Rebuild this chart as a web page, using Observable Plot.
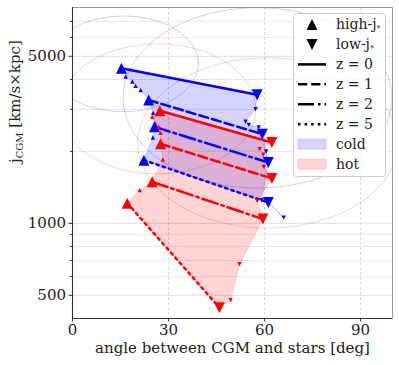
<!DOCTYPE html>
<html><head><meta charset="utf-8">
<script src="https://cdn.jsdelivr.net/npm/d3@7"></script>
<script src="https://cdn.jsdelivr.net/npm/@observablehq/plot@0.6"></script>
<style>body{margin:0;background:#fff} svg{display:block}</style>
</head><body><div id="chart"></div>
<script>
// ---- data ----
const zLabels = ["z = 0", "z = 1", "z = 2", "z = 5"];
const markerLabels = ["high-j", "low-j"];
const phaseLabels = ["cold", "hot"];

const coldHighX = [15.3, 23.8, 25.6, 22.3];
const coldHighY = [4460, 3280, 2535, 1839];
const coldLowX = [57.7, 59.3, 61.2, 61.2];
const coldLowY = [3450, 2362, 1797, 1222];
const hotHighX = [27.3, 27.5, 24.9, 17.1];
const hotHighY = [2957, 2152, 1492, 1215];
const hotLowX = [62.3, 62.3, 59.5, 45.9];
const hotLowY = [2180, 1542, 1042, 444];

const coldHighTrackX = [15.3, 16.6, 18.7, 19.7, 21.3, 23.8, 25.2, 25.6, 25.1, 22.3];
const coldHighTrackY = [4460, 4115, 3920, 3760, 3610, 3280, 2900, 2535, 2286, 1839];
const coldLowTrackX = [57.7, 57.2, 54.1, 55.1, 58.2, 59.3, 60.5, 61.2, 59.1, 61.2];
const coldLowTrackY = [3450, 3005, 2666, 2583, 2517, 2362, 1998, 1797, 1250, 1222];
const hotHighTrackX = [27.3, 24.9, 25.9, 26.9, 27.5, 27.5, 28.2, 24.9, 21.0, 17.1];
const hotHighTrackY = [2957, 2790, 2608, 2534, 2391, 2152, 1850, 1492, 1377, 1215];
const hotLowTrackX = [62.3, 58.5, 59.6, 59.8, 62.3, 57.7, 59.5, 52.2, 49.4, 45.9];
const hotLowTrackY = [2180, 2044, 1936, 1724, 1542, 1242, 1042, 675, 477, 444];
const coldExtraX = [61.2, 66.0];
const coldExtraY = [1222, 1057];

const ellipsePhase = ["cold", "cold", "hot", "hot"];
const ellipseCX = [15.9, 57.8, 26.6, 61.0];
const ellipseCY = [4650, 3350, 3013, 2170];
const ellipseRX = [23.4, 42.0, 30.6, 40.6];
const ellipseRDex = [0.20, 0.377, 0.272, 0.356];

const xTicks = [0, 30, 60, 90];
const yMajor = [500, 1000, 5000];
const yMinor = [600, 700, 800, 900, 2000, 3000, 4000, 6000, 7000];

// ---- styles ----
const colors = {cold: "#0000ff", hot: "#ff0000"};
const dashes = [null, "9.2,4", "16,4,2.5,4", "2.5,4.1"];

const zip = (xs, ys) => xs.map((x, i) => ({x, y: ys[i]}));
const triUp = {draw(ctx, size) { const s = Math.sqrt(size / Math.PI); ctx.moveTo(0, -s); ctx.lineTo(s, s); ctx.lineTo(-s, s); ctx.closePath(); }};
const triDown = {draw(ctx, size) { const s = Math.sqrt(size / Math.PI); ctx.moveTo(0, s); ctx.lineTo(s, -s); ctx.lineTo(-s, -s); ctx.closePath(); }};

const phases = {
  cold: {hx: coldHighX, hy: coldHighY, lx: coldLowX, ly: coldLowY, thx: coldHighTrackX, thy: coldHighTrackY, tlx: coldLowTrackX, tly: coldLowTrackY},
  hot: {hx: hotHighX, hy: hotHighY, lx: hotLowX, ly: hotLowY, thx: hotHighTrackX, thy: hotHighTrackY, tlx: hotLowTrackX, tly: hotLowTrackY}
};

const marks = [];
// grid
marks.push(Plot.gridY(yMinor, {stroke: "#b0b0b0", strokeOpacity: 0.4, strokeWidth: 0.8}));
marks.push(Plot.gridY(yMajor, {stroke: "#b0b0b0", strokeOpacity: 0.5, strokeWidth: 0.8}));
marks.push(Plot.gridX(xTicks.slice(1), {stroke: "#b0b0b0", strokeOpacity: 0.6, strokeWidth: 0.8, strokeDasharray: "3,2"}));

// ellipses
ellipseCX.forEach((cx, i) => {
  const pts = d3.range(0, 361, 2).map(t => {
    const a = t * Math.PI / 180;
    return {x: cx + ellipseRX[i] * Math.cos(a), y: Math.pow(10, Math.log10(ellipseCY[i]) + ellipseRDex[i] * Math.sin(a))};
  });
  marks.push(Plot.line(pts, {x: "x", y: "y", stroke: colors[ellipsePhase[i]], strokeOpacity: 0.2, strokeWidth: 1, clip: true}));
});

// filled regions
phaseLabels.forEach(p => {
  const d = phases[p];
  const poly = zip(d.thx, d.thy).concat(zip(d.tlx, d.tly).reverse());
  marks.push(Plot.line(poly, {x: "x", y: "y", fill: colors[p], fillOpacity: 0.17, stroke: colors[p], strokeOpacity: 0.15, strokeWidth: 1, curve: "linear-closed"}));
});

// extra cold segment
marks.push(Plot.line(zip(coldExtraX, coldExtraY), {x: "x", y: "y", stroke: colors.cold, strokeOpacity: 0.35, strokeWidth: 1}));
marks.push(Plot.dot(zip(coldExtraX, coldExtraY).slice(1), {x: "x", y: "y", symbol: triDown, r: 2.2, fill: colors.cold, stroke: "none"}));

// z lines
phaseLabels.forEach(p => {
  const d = phases[p];
  zLabels.forEach((z, i) => {
    marks.push(Plot.line([{x: d.hx[i], y: d.hy[i]}, {x: d.lx[i], y: d.ly[i]}], {x: "x", y: "y", stroke: colors[p], strokeWidth: 2.5, strokeDasharray: dashes[i]}));
  });
});

// small track markers
phaseLabels.forEach(p => {
  const d = phases[p];
  marks.push(Plot.dot(zip(d.thx, d.thy), {x: "x", y: "y", symbol: triUp, r: 2.2, fill: colors[p], stroke: "none"}));
  marks.push(Plot.dot(zip(d.tlx, d.tly), {x: "x", y: "y", symbol: triDown, r: 2.2, fill: colors[p], stroke: "none"}));
});
// big markers
phaseLabels.forEach(p => {
  const d = phases[p];
  marks.push(Plot.dot(zip(d.hx, d.hy), {x: "x", y: "y", symbol: triUp, r: 5.5, fill: colors[p], stroke: "none"}));
  marks.push(Plot.dot(zip(d.lx, d.ly), {x: "x", y: "y", symbol: triDown, r: 5.5, fill: colors[p], stroke: "none"}));
});

// frame & axes
marks.push(Plot.frame({stroke: "#999", strokeWidth: 1}));
marks.push(Plot.ruleX([0], {stroke: "#333", strokeWidth: 1.1}));
marks.push(Plot.ruleY([400], {stroke: "#333", strokeWidth: 1.1}));
marks.push(Plot.axisX(xTicks, {tickSize: 3.5, tickPadding: 2, label: null, stroke: "#333", fill: "#222", tickFormat: d => String(d)}));
marks.push(Plot.axisY(yMajor, {tickSize: 3.5, tickPadding: 3, label: null, stroke: "#333", fill: "#222", tickFormat: d => String(d)}));
marks.push(Plot.axisY(yMinor, {tickSize: 2, label: null, stroke: "#333", tickFormat: () => ""}));
marks.push(Plot.text(["angle between CGM and stars [deg]"], {frameAnchor: "bottom", dy: 34, fill: "#222", fontSize: 15}));
marks.push(Plot.text(["j"], {frameAnchor: "left", dx: -57, rotate: -90, fill: "#222", fontSize: 15, className: "ylab"}));

const chart = Plot.plot({
  width: 399, height: 365,
  marginLeft: 72, marginRight: 7, marginTop: 7, marginBottom: 47,
  style: {fontFamily: "DejaVu Serif", fontSize: "15px", background: "#fff", color: "#222"},
  x: {domain: [0, 100]},
  y: {type: "log", domain: [400, 8000]},
  marks
});
document.getElementById("chart").appendChild(chart);

// y label with subscript
const yl = d3.select(chart).select("g.ylab text");
yl.text(null);
yl.append("tspan").text("j");
yl.append("tspan").attr("font-size", 10).attr("dy", 3).text("CGM");
yl.append("tspan").attr("dy", -3).text(" [km/s×kpc]");

// legend
const svg = d3.select(chart);
const lg = svg.append("g").attr("font-family", "DejaVu Serif").attr("font-size", 14).attr("fill", "#222").attr("text-anchor", "start");
lg.append("rect").attr("x", 293.5).attr("y", 13.5).attr("width", 92).attr("height", 163).attr("rx", 3)
  .attr("fill", "white").attr("fill-opacity", 0.8).attr("stroke", "#ccc");
const rowY = i => 24.5 + i * 19.95;
const hx0 = 298, hx1 = 326, tx = 336;
const triPath = (sym, r) => d3.symbol(sym, r * r * Math.PI)();
const entries = [];
markerLabels.forEach((m, i) => entries.push({type: "marker", sym: i === 0 ? triUp : triDown, label: m, star: true}));
zLabels.forEach((z, i) => entries.push({type: "line", dash: dashes[i], label: z}));
phaseLabels.forEach(p => entries.push({type: "patch", color: colors[p], label: p}));
entries.forEach((e, i) => {
  const y = rowY(i);
  if (e.type === "marker") {
    lg.append("path").attr("d", triPath(e.sym, 5.5)).attr("transform", `translate(${(hx0 + hx1) / 2},${y})`).attr("fill", "#000");
  } else if (e.type === "line") {
    lg.append("line").attr("x1", hx0).attr("x2", hx1).attr("y1", y).attr("y2", y).attr("stroke", "#000").attr("stroke-width", 2.5)
      .attr("stroke-dasharray", e.dash);
  } else {
    lg.append("rect").attr("x", hx0).attr("y", y - 5).attr("width", hx1 - hx0).attr("height", 10)
      .attr("fill", e.color).attr("fill-opacity", 0.17).attr("stroke", e.color).attr("stroke-opacity", 0.15);
  }
  const t = lg.append("text").attr("x", tx).attr("y", y).attr("dy", "0.35em").attr("text-anchor", "start");
  t.append("tspan").text(e.label);
  if (e.star) t.append("tspan").attr("font-size", 8).attr("dy", 2).text("*");
});
</script>
</body></html>
